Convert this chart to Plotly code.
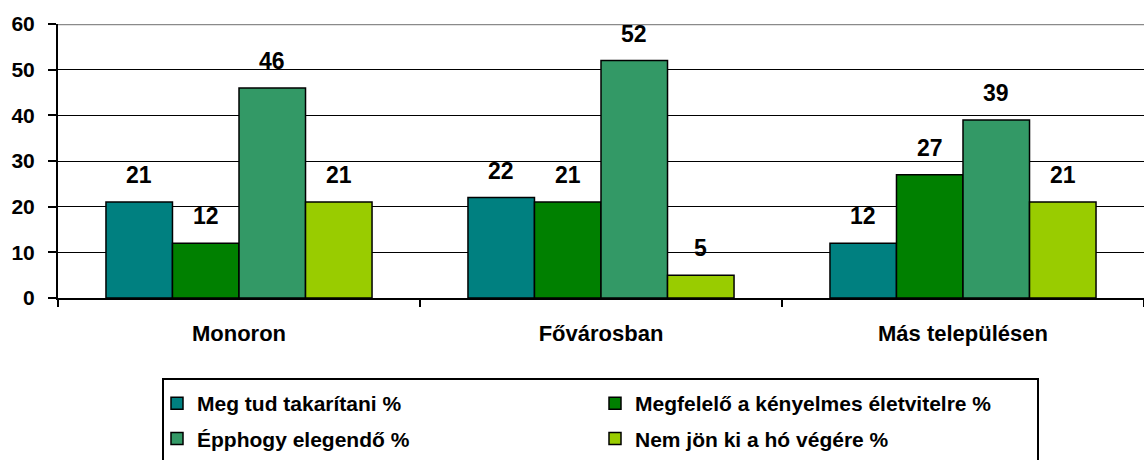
import plotly.graph_objects as go

categories = ["Monoron", "Fővárosban", "Más településen"]
series_names = [
    "Meg tud takarítani %",
    "Megfelelő a kényelmes életvitelre %",
    "Épphogy elegendő %",
    "Nem jön ki a hó végére %",
]
meg_tud = [21, 22, 12]
megfelelo = [12, 21, 27]
epphogy = [46, 52, 39]
nem_jon_ki = [21, 5, 21]
series_values = [meg_tud, megfelelo, epphogy, nem_jon_ki]
colors = ["#008080", "#008000", "#339966", "#99CC00"]
legend_column = ["legend", "legend2", "legend", "legend2"]
y_ticks = [0, 10, 20, 30, 40, 50, 60]

FONT = "Liberation Sans, Arial, sans-serif"
BARGAP = 0.265
n_series = len(series_values)
bar_w = (1 - BARGAP) / n_series
x_pos = list(range(len(categories)))

# plot area in pixels: x 58..1144, y 24..298
PLOT_L, PLOT_W, PLOT_B, PLOT_H = 58, 1086, 298, 274


def px_x(p):
    return (p - PLOT_L) / PLOT_W


def px_y(p):
    return (PLOT_B - p) / PLOT_H


fig = go.Figure()
annotations = []
for k, (name, vals, col, lg) in enumerate(zip(series_names, series_values, colors, legend_column)):
    fig.add_trace(go.Bar(
        x=x_pos, y=vals, name=name, legend=lg, legendgroup=name,
        marker=dict(color=col, line=dict(color="#000000", width=1.5)),
    ))
    for i, v in enumerate(vals):
        annotations.append(dict(
            x=i + (k - (n_series - 1) / 2) * bar_w, y=v, xref="x", yref="y",
            text=f"<b>{v}</b>", showarrow=False, yanchor="bottom", yshift=12,
            font=dict(family=FONT, size=23, color="#000000"),
        ))

legend_common = dict(
    orientation="v", yanchor="top", xanchor="left",
    traceorder="grouped", tracegroupgap=5,
    bgcolor="rgba(0,0,0,0)", borderwidth=0,
    font=dict(family=FONT, size=21, color="#000000", weight="bold"),
)

fig.update_layout(
    width=1144, height=460,
    margin=dict(l=PLOT_L, r=0, t=24, b=162),
    paper_bgcolor="white", plot_bgcolor="white",
    barmode="group", bargap=BARGAP, bargroupgap=0,
    font=dict(family=FONT, size=20, color="#000000"),
    annotations=annotations,
    showlegend=True,
    legend=dict(x=px_x(157), y=px_y(383), **legend_common),
    legend2=dict(x=px_x(595), y=px_y(383), **legend_common),
    shapes=[
        dict(type="line", xref="paper", yref="y", x0=0, x1=1, y0=60, y1=60,
             line=dict(color="#8a8a8a", width=2.5), layer="above"),
        # legend frame
        dict(type="rect", xref="paper", yref="paper",
             x0=px_x(163), x1=px_x(1038), y0=px_y(379), y1=px_y(475),
             line=dict(color="#000000", width=2), fillcolor="rgba(0,0,0,0)"),
    ],
)

fig.update_xaxes(
    range=[-0.5, len(categories) - 0.5],
    tickmode="array", tickvals=x_pos,
    ticktext=[f"<b>{c}</b>" for c in categories],
    ticks="", ticklabelstandoff=15,
    minor=dict(tick0=0.5, dtick=1, ticks="outside", ticklen=7,
               tickwidth=2, tickcolor="#000000", showgrid=False),
    showline=True, linecolor="#000000", linewidth=2,
    showgrid=False, zeroline=False,
    tickfont=dict(family=FONT, size=22),
)
fig.update_yaxes(
    range=[0, 60], tickmode="array", tickvals=y_ticks,
    ticktext=[f"<b>{t}</b>" for t in y_ticks],
    ticks="outside", ticklen=8, tickwidth=2, tickcolor="#000000",
    showline=True, linecolor="#000000", linewidth=2,
    showgrid=True, gridcolor="#000000", gridwidth=1,
    zeroline=False, ticklabelstandoff=9,
    tickfont=dict(family=FONT, size=21),
)

fig.write_html("out.html")
